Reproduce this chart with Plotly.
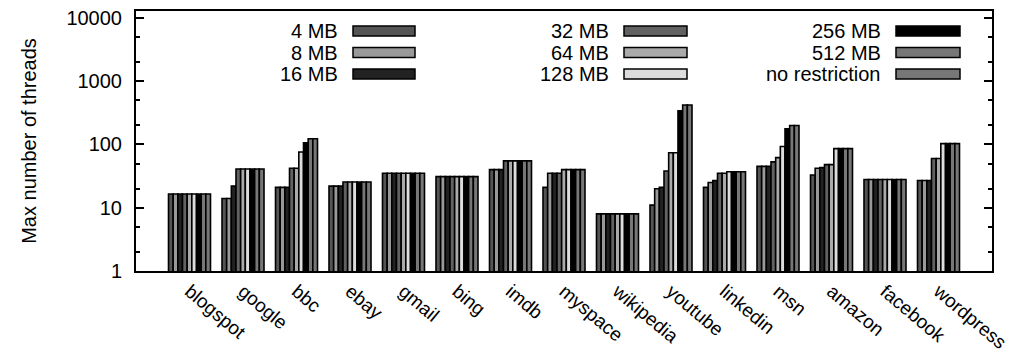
import plotly.graph_objects as go

categories = ["blogspot", "google", "bbc", "ebay", "gmail", "bing", "imdb", "myspace",
              "wikipedia", "youtube", "linkedin", "msn", "amazon", "facebook", "wordpress"]

series_names = ["4 MB", "8 MB", "16 MB", "32 MB", "64 MB", "128 MB", "256 MB", "512 MB", "no restriction"]

mb4 = [16.5, 14, 21, 22, 35, 31, 40, 21, 8, 11, 21, 45, 33, 28, 27]
mb8 = [16.5, 14, 21, 22, 35, 31, 40, 35, 8, 20, 25, 45, 42, 28, 27]
mb16 = [16.5, 22, 21, 22, 35, 31, 40, 35, 8, 21, 27, 45, 43, 28, 27]
mb32 = [16.5, 41, 42, 25.5, 35, 31, 55, 35, 8, 38, 35, 53, 48, 28, 60]
mb64 = [16.5, 41, 42, 25.5, 35, 31, 55, 40, 8, 74, 35, 62, 48, 28, 60]
mb128 = [16.5, 41, 76, 25.5, 35, 31, 55, 40, 8, 74, 37, 93, 86, 28, 103]
mb256 = [16.5, 41, 106, 25.5, 35, 31, 55, 40, 8, 340, 37, 177, 86, 28, 103]
mb512 = [16.5, 41, 123, 25.5, 35, 31, 55, 40, 8, 420, 37, 199, 86, 28, 103]
unrestricted = [16.5, 41, 123, 25.5, 35, 31, 55, 40, 8, 420, 37, 199, 86, 28, 103]

series_values = [mb4, mb8, mb16, mb32, mb64, mb128, mb256, mb512, unrestricted]
colors = ["#555555", "#999999", "#222222", "#626262", "#aaaaaa", "#dddddd", "#000000", "#777777", "#777777"]

y_ticks = [1, 10, 100, 1000, 10000]
y_minor = [2, 5, 20, 50, 200, 500, 2000, 5000]

FONT = "Liberation Sans, Arial, sans-serif"
FS = 20

fig = go.Figure()
for name, vals, col in zip(series_names, series_values, colors):
    fig.add_trace(go.Bar(x=categories, y=vals, name=name,
                         marker=dict(color=col, line=dict(color="black", width=1.6)),
                         showlegend=False))

# plot area in pixels
L, R, T, B = 136, 992, 11, 271
W, H = 1010, 360

def px(x):
    return (x - L) / (R - L)

def py(y):
    return (B - y) / (B - T)

shapes = []
annotations = []
legend_cols = [(340, 353, 415), (611, 624, 687), (883, 896, 960)]
legend_rows = [31, 52.5, 74]
for i, (name, col) in enumerate(zip(series_names, colors)):
    c, r = divmod(i, 3)
    tx, sx0, sx1 = legend_cols[c]
    ry = legend_rows[r]
    shapes.append(dict(type="rect", xref="paper", yref="paper",
                       x0=px(sx0), x1=px(sx1), y0=py(ry + 5), y1=py(ry - 5),
                       fillcolor=col, line=dict(color="black", width=1.5)))
    annotations.append(dict(text=name, xref="paper", yref="paper", x=px(tx), y=py(ry),
                            xanchor="right", yanchor="middle", showarrow=False,
                            font=dict(family=FONT, size=FS, color="black")))

fig.update_layout(
    width=W, height=H,
    margin=dict(l=L, r=W - R, t=T, b=H - B),
    paper_bgcolor="white", plot_bgcolor="white",
    barmode="group", bargap=0.215, bargroupgap=0,
    font=dict(family=FONT, size=FS, color="black"),
    shapes=shapes, annotations=annotations,
    xaxis=dict(range=[-1, 15], showline=True, linecolor="black", linewidth=2, mirror=True,
               ticks="", tickangle=40, tickfont=dict(family=FONT, size=19), showgrid=False,
               zeroline=False, automargin=False),
    yaxis=dict(type="log", range=[0, 4.11], showline=True, linecolor="black", linewidth=2,
               mirror="ticks", ticks="inside", ticklen=8, tickwidth=1.5, tickcolor="black",
               tickvals=y_ticks, ticktext=[str(v) for v in y_ticks], ticklabelstandoff=8,
               tickfont=dict(family=FONT, size=FS), showgrid=False, zeroline=False,
               automargin=False,
               title=dict(text="Max number of threads", font=dict(family=FONT, size=FS), standoff=24),
               minor=dict(tickvals=y_minor, ticks="inside", ticklen=4, tickwidth=1.5,
                          tickcolor="black", showgrid=False)),
)

fig.write_html("out.html")
